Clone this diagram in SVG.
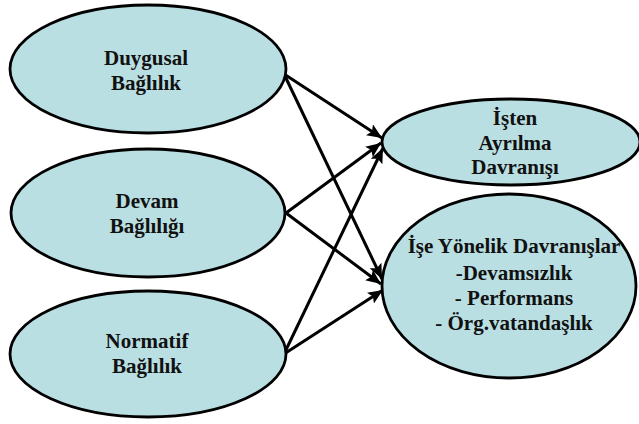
<svg xmlns="http://www.w3.org/2000/svg" width="639" height="424" viewBox="0 0 639 424">
  <style>
    .node ellipse { fill: #b9dfe3; stroke: #000; stroke-width: 2.8; }
    .node text { font-family: 'Liberation Serif', 'Times New Roman', serif; font-weight: bold; font-size: 21px; fill: #111; text-anchor: middle; }
    .edge { stroke: #000; stroke-width: 3; fill: none; marker-end: url(#arrow); }
  </style>
  <defs>
    <marker id="arrow" markerUnits="userSpaceOnUse" markerWidth="18" markerHeight="14" refX="15" refY="6.5" orient="auto">
      <path d="M0,0 L15,6.5 L0,13 L3,6.5 Z" fill="#000"/>
    </marker>
  </defs>

  <rect width="639" height="424" fill="#fff"/>

  <!-- connectors -->
  <g id="connectors">
    <line class="edge" x1="284" y1="74" x2="382" y2="138"/>
    <line class="edge" x1="284" y1="74" x2="382" y2="279"/>
    <line class="edge" x1="286" y1="213" x2="381" y2="143"/>
    <line class="edge" x1="286" y1="213" x2="381" y2="284"/>
    <line class="edge" x1="284" y1="354" x2="383" y2="148"/>
    <line class="edge" x1="284" y1="354" x2="383" y2="290"/>
  </g>

  <!-- source constructs -->
  <g id="duygusal" class="node">
    <ellipse cx="148" cy="69" rx="138" ry="64"/>
    <text x="146" y="65">Duygusal</text>
    <text x="146" y="90">Bağlılık</text>
  </g>
  <g id="devam" class="node">
    <ellipse cx="148" cy="213" rx="137" ry="64"/>
    <text x="147" y="208">Devam</text>
    <text x="147" y="233">Bağlılığı</text>
  </g>
  <g id="normatif" class="node">
    <ellipse cx="148" cy="354" rx="138" ry="63"/>
    <text x="147" y="348">Normatif</text>
    <text x="147" y="373">Bağlılık</text>
  </g>

  <!-- outcomes -->
  <g id="isten-ayrilma" class="node">
    <ellipse cx="511" cy="142" rx="129" ry="43"/>
    <text x="515" y="125">İşten</text>
    <text x="515" y="150">Ayrılma</text>
    <text x="515" y="174">Davranışı</text>
  </g>
  <g id="ise-yonelik" class="node">
    <ellipse cx="509" cy="286" rx="127" ry="92"/>
    <text x="514" y="253">İşe Yönelik Davranışlar</text>
    <text x="514" y="280">-Devamsızlık</text>
    <text x="514" y="305">- Performans</text>
    <text x="514" y="330">- Örg.vatandaşlık</text>
  </g>
</svg>
